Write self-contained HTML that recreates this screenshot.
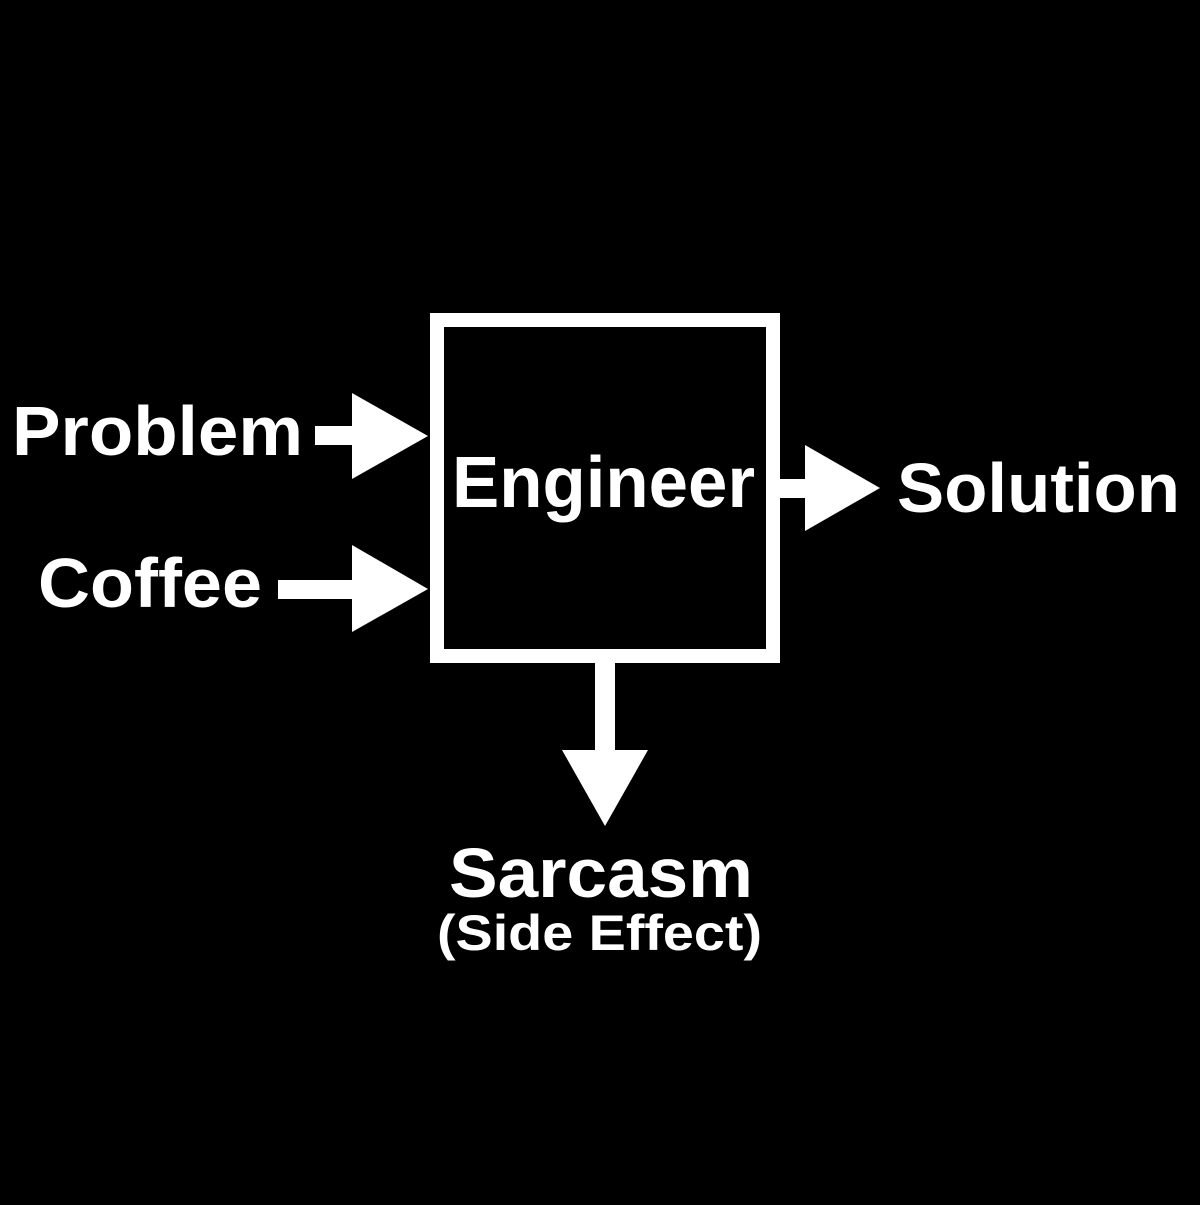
<!DOCTYPE html>
<html><head><style>html,body{margin:0;padding:0;background:#000}</style></head>
<body>
<svg width="1200" height="1200" viewBox="0 0 1200 1200" xmlns="http://www.w3.org/2000/svg">
<rect width="1200" height="1200" fill="#000"/>
<rect x="437" y="320" width="336" height="336" fill="none" stroke="#fff" stroke-width="14"/>
<rect x="315" y="426" width="40" height="19" fill="#fff"/>
<polygon points="352,393 352,479 428,436" fill="#fff"/>
<rect x="278" y="580" width="77" height="19" fill="#fff"/>
<polygon points="352,545 352,632 428,589" fill="#fff"/>
<rect x="778" y="479" width="30" height="19" fill="#fff"/>
<polygon points="805,445 805,531 880,488" fill="#fff"/>
<rect x="595" y="660" width="20" height="93" fill="#fff"/>
<polygon points="562,750 648,750 605,826" fill="#fff"/>
<g fill="#fff" font-family="Liberation Sans, sans-serif" font-weight="bold">
<text x="12" y="455" font-size="70" textLength="291" lengthAdjust="spacingAndGlyphs">Problem</text>
<text x="38" y="607" font-size="70" textLength="224" lengthAdjust="spacingAndGlyphs">Coffee</text>
<text x="452" y="507" font-size="72" textLength="303" lengthAdjust="spacingAndGlyphs">Engineer</text>
<text x="897" y="512" font-size="70" textLength="283" lengthAdjust="spacingAndGlyphs">Solution</text>
<text x="449" y="897" font-size="70" textLength="304" lengthAdjust="spacingAndGlyphs">Sarcasm</text>
<text x="437" y="950" font-size="50" textLength="325" lengthAdjust="spacingAndGlyphs">(Side Effect)</text>
</g>
</svg>
</body></html>
